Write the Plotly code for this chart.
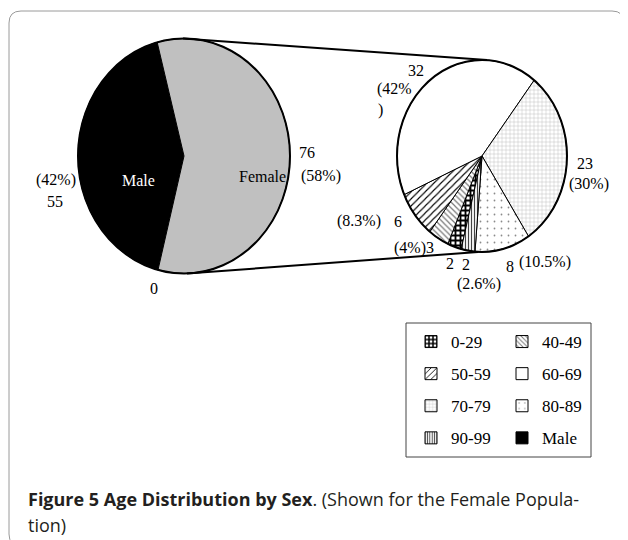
import numpy as np
import plotly.graph_objects as go

# ---------------- data ----------------
sexes = ["Male", "Female"]
sex_counts = [55, 76]
sex_pct_labels = ["(42%)", "(58%)"]

age_groups = ["0-29", "40-49", "50-59", "60-69", "70-79", "80-89", "90-99"]
age_counts = [2, 3, 6, 32, 23, 8, 2]
age_pct_labels = ["", "(4%)", "(8.3%)", "(42%)", "(30%)", "(10.5%)", "(2.6%)"]

legend_col1 = ["0-29", "50-59", "70-79", "90-99"]
legend_col2 = ["40-49", "60-69", "80-89", "Male"]

# ---------------- layout geometry (window pixels) ----------------
W, H = 628, 540
OFF = 8  # page body margin: the figure starts 8px into the window
LEFT = dict(cx=184, cy=156, rx=106, ry=117.5)
RIGHT = dict(cx=482, cy=156, rx=85, ry=96)
ROTATION = 194.2  # first slice starts here, degrees clockwise from 12 o'clock

SERIF = "Liberation Serif, Times New Roman, serif"
SANS = "Open Sans, Noto Sans, sans-serif"


def px(x):
    return (x - OFF) / W


def py(y):
    return 1 - (y - OFF) / H


STYLES = {
    "0-29": dict(fillcolor="white", pattern=dict(shape="+", fgcolor="black", bgcolor="white", size=5, solidity=0.6)),
    "40-49": dict(fillcolor="white", pattern=dict(shape="\\", fgcolor="#777777", bgcolor="white", size=4, solidity=0.3)),
    "50-59": dict(fillcolor="white", pattern=dict(shape="/", fgcolor="black", bgcolor="white", size=5, solidity=0.22)),
    "60-69": dict(fillcolor="white", pattern=None),
    "70-79": dict(fillcolor="white", pattern=dict(shape="+", fgcolor="#bdbdbd", bgcolor="white", size=4, solidity=0.22)),
    "80-89": dict(fillcolor="white", pattern=dict(shape=".", fgcolor="#8a8a8a", bgcolor="white", size=7, solidity=0.05)),
    "90-99": dict(fillcolor="white", pattern=dict(shape="|", fgcolor="#444444", bgcolor="white", size=3, solidity=0.4)),
    "Male": dict(fillcolor="black", pattern=None),
    "Female": dict(fillcolor="#c0c0c0", pattern=None),
}


def slice_xy(pie, a0, a1):
    n = max(int(abs(a1 - a0)), 2) + 1
    th = np.radians(np.linspace(a0, a1, n))
    xs = np.concatenate([[pie["cx"]], pie["cx"] + pie["rx"] * np.sin(th), [pie["cx"]]])
    ys = np.concatenate([[pie["cy"]], pie["cy"] - pie["ry"] * np.cos(th), [pie["cy"]]])
    return xs, ys


def pie_traces(pie, names, counts):
    total = float(sum(counts))
    start = ROTATION
    traces = []
    for name, c in zip(names, counts):
        span = 360.0 * c / total
        xs, ys = slice_xy(pie, start, start + span)
        start += span
        st = STYLES[name]
        kw = dict(x=xs, y=ys, mode="lines", fill="toself", fillcolor=st["fillcolor"],
                  line=dict(color="black", width=1), name=name, showlegend=False,
                  hoverinfo="name")
        if st["pattern"]:
            kw["fillpattern"] = dict(fillmode="replace", **st["pattern"])
        traces.append(go.Scatter(**kw))
    return traces


fig = go.Figure()
for t in pie_traces(LEFT, sexes, sex_counts):
    fig.add_trace(t)
for t in pie_traces(RIGHT, age_groups, age_counts):
    fig.add_trace(t)

# legend-only entries (two columns -> two legends)
for legname, col in (("legend", legend_col1), ("legend2", legend_col2)):
    for name in col:
        st = STYLES[name]
        marker = dict(color=st["fillcolor"], line=dict(color="black", width=1))
        if st["pattern"]:
            marker["pattern"] = dict(fillmode="replace", **st["pattern"])
        fig.add_trace(go.Bar(x=[None], y=[None], name=name, marker=marker,
                             legend=legname, legendgroup=name, showlegend=True))

# ---------------- shapes ----------------
shapes = []
r = 12
x0, y0, x1, y1 = 9, 11, 624, 546
shapes.append(dict(type="path", xref="x", yref="y",
                   path=f"M{x0+r},{y0} L{x1-r},{y0} Q{x1},{y0} {x1},{y0+r} L{x1},{y1-r} Q{x1},{y1} {x1-r},{y1} "
                        f"L{x0+r},{y1} Q{x0},{y1} {x0},{y1-r} L{x0},{y0+r} Q{x0},{y0} {x0+r},{y0} Z",
                   line=dict(color="#9a9a9a", width=1), layer="below"))
for p in (LEFT, RIGHT):
    shapes.append(dict(type="circle", xref="x", yref="y",
                       x0=p["cx"] - p["rx"], x1=p["cx"] + p["rx"],
                       y0=p["cy"] - p["ry"], y1=p["cy"] + p["ry"],
                       line=dict(color="black", width=2)))
shapes.append(dict(type="line", xref="x", yref="y",
                   x0=LEFT["cx"] - 1, y0=LEFT["cy"] - LEFT["ry"], x1=RIGHT["cx"] + 5, y1=RIGHT["cy"] - RIGHT["ry"],
                   line=dict(color="black", width=2)))
shapes.append(dict(type="line", xref="x", yref="y",
                   x0=LEFT["cx"] + 3, y0=LEFT["cy"] + LEFT["ry"], x1=RIGHT["cx"] - 4, y1=RIGHT["cy"] + RIGHT["ry"],
                   line=dict(color="black", width=2)))
shapes.append(dict(type="rect", xref="x", yref="y", x0=406, y0=323, x1=591, y1=457,
                   line=dict(color="#444444", width=1)))

# ---------------- labels ----------------
labels = [
    (sexes[0], 138, 180, "white"),
    (sexes[1], 262, 176, "black"),
    (str(sex_counts[1]), 307, 152, "black"),
    (sex_pct_labels[1], 321, 176, "black"),
    (sex_pct_labels[0], 56, 180, "black"),
    (str(sex_counts[0]), 55, 201, "black"),
    ("0", 154, 288, "black"),
    (str(age_counts[3]), 416, 70, "black"),
    (age_pct_labels[3][:-1], 394, 89, "black"),
    (age_pct_labels[3][-1:], 380, 110, "black"),
    (str(age_counts[4]), 585, 163, "black"),
    (age_pct_labels[4], 589, 184, "black"),
    (age_pct_labels[2], 359, 221, "black"),
    (str(age_counts[2]), 398, 221, "black"),
    (age_pct_labels[1] + str(age_counts[1]), 414, 248, "black"),
    (str(age_counts[0]), 450, 263, "black"),
    (str(age_counts[6]), 466, 264, "black"),
    (age_pct_labels[6], 479, 284, "black"),
    (str(age_counts[5]), 510, 266, "black"),
    (age_pct_labels[5], 545, 262, "black"),
]
annotations = [dict(text=t, x=x, y=y, xref="x", yref="y", showarrow=False,
                    xanchor="center", yanchor="middle",
                    font=dict(family=SERIF, size=16, color=c)) for t, x, y, c in labels]
annotations.append(dict(text="<b>Figure 5 Age Distribution by Sex</b>. (Shown for the Female Popula-",
                        x=26, y=499, xref="x", yref="y", showarrow=False, xanchor="left", yanchor="middle",
                        font=dict(family=SANS, size=18, color="#231f20")))
annotations.append(dict(text="tion)", x=26, y=525, xref="x", yref="y", showarrow=False,
                        xanchor="left", yanchor="middle",
                        font=dict(family=SANS, size=18, color="#231f20")))

leg_common = dict(xanchor="left", yanchor="top", bgcolor="rgba(0,0,0,0)", borderwidth=0,
                  font=dict(family=SERIF, size=17, color="black"), tracegroupgap=7,
                  traceorder="grouped", orientation="v")

fig.update_layout(
    width=W, height=H, autosize=False,
    margin=dict(l=0, r=0, t=0, b=0),
    paper_bgcolor="white", plot_bgcolor="white",
    xaxis=dict(range=[OFF, W + OFF], visible=False, fixedrange=True, type="linear"),
    yaxis=dict(range=[H + OFF, OFF], visible=False, fixedrange=True, type="linear"),
    shapes=shapes, annotations=annotations,
    legend=dict(x=px(411), y=py(324), **leg_common),
    legend2=dict(x=px(502), y=py(324), **leg_common),
    showlegend=True,
)

fig.write_html("out.html")
